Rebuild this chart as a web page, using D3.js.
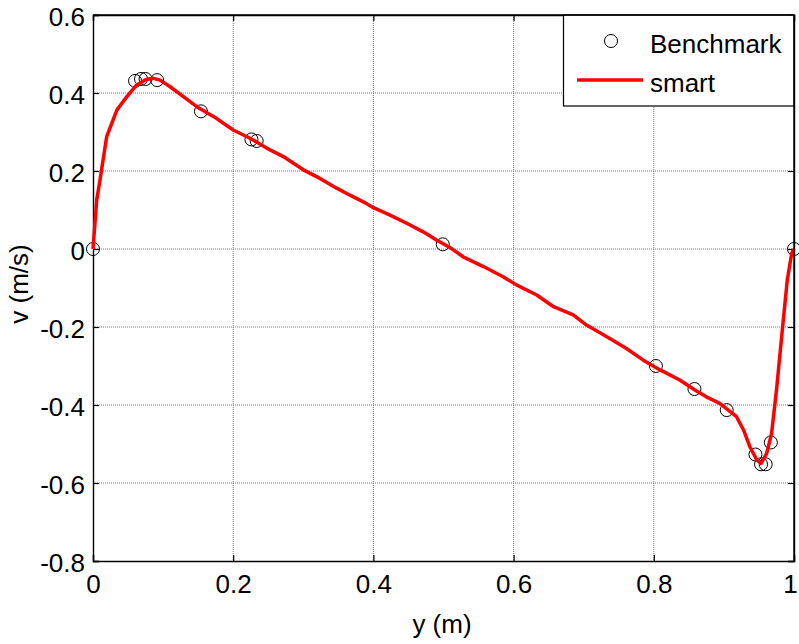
<!DOCTYPE html>
<html>
<head>
<meta charset="utf-8">
<script src="https://cdn.jsdelivr.net/npm/d3@7/dist/d3.min.js"></script>
<style>
  html, body { margin: 0; padding: 0; background: #fff; }
  svg { display: block; font-family: "Liberation Sans", Arial, sans-serif; }
</style>
</head>
<body>
<svg id="chart" width="799" height="644"></svg>
<script>
// Benchmark samples of the velocity profile
const benchY = [0, 0.060, 0.0685, 0.075, 0.0915, 0.154, 0.226, 0.2335, 0.499, 0.803, 0.858, 0.904, 0.945, 0.953, 0.9596, 0.967, 1];
const benchV = [0, 0.431, 0.436, 0.436, 0.433, 0.353, 0.281, 0.277, 0.012, -0.300, -0.359, -0.413, -0.527, -0.552, -0.552, -0.496, 0];

// "smart" solution curve
const smartY = [0, 0.0053, 0.01, 0.0195, 0.034, 0.048, 0.062, 0.075, 0.085, 0.0956, 0.11, 0.128, 0.148,
  0.176, 0.2, 0.224, 0.2525, 0.2715, 0.3, 0.3238, 0.3476, 0.3666, 0.3856, 0.4, 0.4237, 0.4475, 0.471,
  0.49, 0.509, 0.528, 0.557, 0.585, 0.604, 0.633, 0.657, 0.685, 0.704, 0.733, 0.761, 0.785, 0.809,
  0.837, 0.858, 0.875, 0.894, 0.909, 0.918, 0.928, 0.937, 0.947, 0.953, 0.961, 0.968, 0.975, 0.9838,
  0.9904, 0.9967, 1];
const smartV = [0, 0.126, 0.177, 0.288, 0.356, 0.39, 0.42, 0.434, 0.438, 0.433, 0.416, 0.392, 0.365,
  0.335, 0.305, 0.284, 0.254, 0.237, 0.203, 0.181, 0.156, 0.138, 0.121, 0.106, 0.087, 0.066, 0.044,
  0.023, 0.004, -0.020, -0.045, -0.071, -0.092, -0.118, -0.148, -0.169, -0.195, -0.225, -0.255, -0.285, -0.31,
  -0.336, -0.361, -0.379, -0.396, -0.417, -0.43, -0.464, -0.507, -0.541, -0.55, -0.524, -0.473, -0.362, -0.199,
  -0.08, -0.011, 0];

const xTicks = [0, 0.2, 0.4, 0.6, 0.8, 1];
const yTicks = [0.6, 0.4, 0.2, 0, -0.2, -0.4, -0.6, -0.8];
const seriesNames = ["Benchmark", "smart"];
const xTitle = "y (m)";
const yTitle = "v (m/s)";

const svg = d3.select("#chart");
const pL = 93, pR = 794, pT = 15, pB = 561;
const FS = 26;

const x = d3.scaleLinear().domain([0, 1]).range([pL, pR]);
const y = d3.scaleLinear().domain([-0.8, 0.6]).range([pB, pT]);

// grid
const grid = svg.append("g");
grid.selectAll("line.gx").data(xTicks.slice(1, -1)).join("line")
  .attr("x1", d => x(d)).attr("x2", d => x(d))
  .attr("y1", pT).attr("y2", pB)
  .attr("stroke", "#7a7a7a").attr("stroke-width", 1).attr("stroke-dasharray", "1,1");
grid.selectAll("line.gy").data(yTicks.slice(1, -1)).join("line")
  .attr("x1", pL).attr("x2", pR)
  .attr("y1", d => y(d)).attr("y2", d => y(d))
  .attr("stroke", "#7a7a7a").attr("stroke-width", 1).attr("stroke-dasharray", "1,1");

// axes with inward ticks; labels use a plain hyphen for negatives
const fmt = d => String(d);
const axB = svg.append("g").attr("transform", `translate(0,${pB})`)
  .call(d3.axisBottom(x).tickValues(xTicks).tickSize(-6).tickPadding(14).tickFormat(fmt));
const axL = svg.append("g").attr("transform", `translate(${pL},0)`)
  .call(d3.axisLeft(y).tickValues(yTicks).tickSize(-6).tickPadding(8).tickFormat(fmt));
const axT = svg.append("g").attr("transform", `translate(0,${pT})`)
  .call(d3.axisTop(x).tickValues(xTicks).tickSize(-6).tickFormat(""));
const axR = svg.append("g").attr("transform", `translate(${pR},0)`)
  .call(d3.axisRight(y).tickValues(yTicks).tickSize(-6).tickFormat(""));

[axB, axL, axT, axR].forEach(g => {
  g.select(".domain").attr("stroke", "#000").attr("stroke-width", 1.4);
  g.selectAll(".tick line").attr("stroke", "#000").attr("stroke-width", 1.2);
  g.selectAll("text").attr("font-size", FS).attr("fill", "#000")
    .attr("font-family", "'Liberation Sans', Arial, sans-serif");
});
axB.selectAll(".tick text").attr("dy", "0.71em")
  .attr("dx", d => d === 1 ? -4 : 0);
axL.selectAll(".tick text").attr("dy", "0.42em");

// benchmark markers
svg.append("g").selectAll("circle").data(benchY.map((d, i) => [d, benchV[i]])).join("circle")
  .attr("cx", d => x(d[0])).attr("cy", d => y(d[1])).attr("r", 6.5)
  .attr("fill", "none").attr("stroke", "#000").attr("stroke-width", 1);

// smart line
const line = d3.line().x(d => x(d[0])).y(d => y(d[1]));
svg.append("path").datum(smartY.map((d, i) => [d, smartV[i]]))
  .attr("d", line).attr("fill", "none").attr("stroke", "#ff0000")
  .attr("stroke-width", 3.5).attr("stroke-linejoin", "round");

// axis titles
svg.append("text").attr("x", 442).attr("y", 633).attr("text-anchor", "middle")
  .attr("font-size", FS).text(xTitle);
svg.append("text").attr("transform", "translate(28,284) rotate(-90)")
  .attr("text-anchor", "middle").attr("font-size", FS).text(yTitle);

// legend
const lg = svg.append("g");
lg.append("rect").attr("x", 563.5).attr("y", pT).attr("width", pR - 563.5).attr("height", 106 - pT)
  .attr("fill", "#fff").attr("stroke", "#000").attr("stroke-width", 1.2);
lg.append("circle").attr("cx", 611).attr("cy", 41).attr("r", 6.5)
  .attr("fill", "none").attr("stroke", "#000").attr("stroke-width", 1);
lg.append("line").attr("x1", 577).attr("x2", 643).attr("y1", 80).attr("y2", 80)
  .attr("stroke", "#ff0000").attr("stroke-width", 3.5);
lg.selectAll("text").data(seriesNames).join("text")
  .attr("x", 650).attr("y", (d, i) => i === 0 ? 53 : 92)
  .attr("font-size", FS).text(d => d);
// frame edges drawn again above the legend box
svg.append("line").attr("x1", pR).attr("x2", pR).attr("y1", pT).attr("y2", pB)
  .attr("stroke", "#000").attr("stroke-width", 1.4);
svg.append("line").attr("x1", pL).attr("x2", pR).attr("y1", pT).attr("y2", pT)
  .attr("stroke", "#000").attr("stroke-width", 1.4);
</script>
</body>
</html>
